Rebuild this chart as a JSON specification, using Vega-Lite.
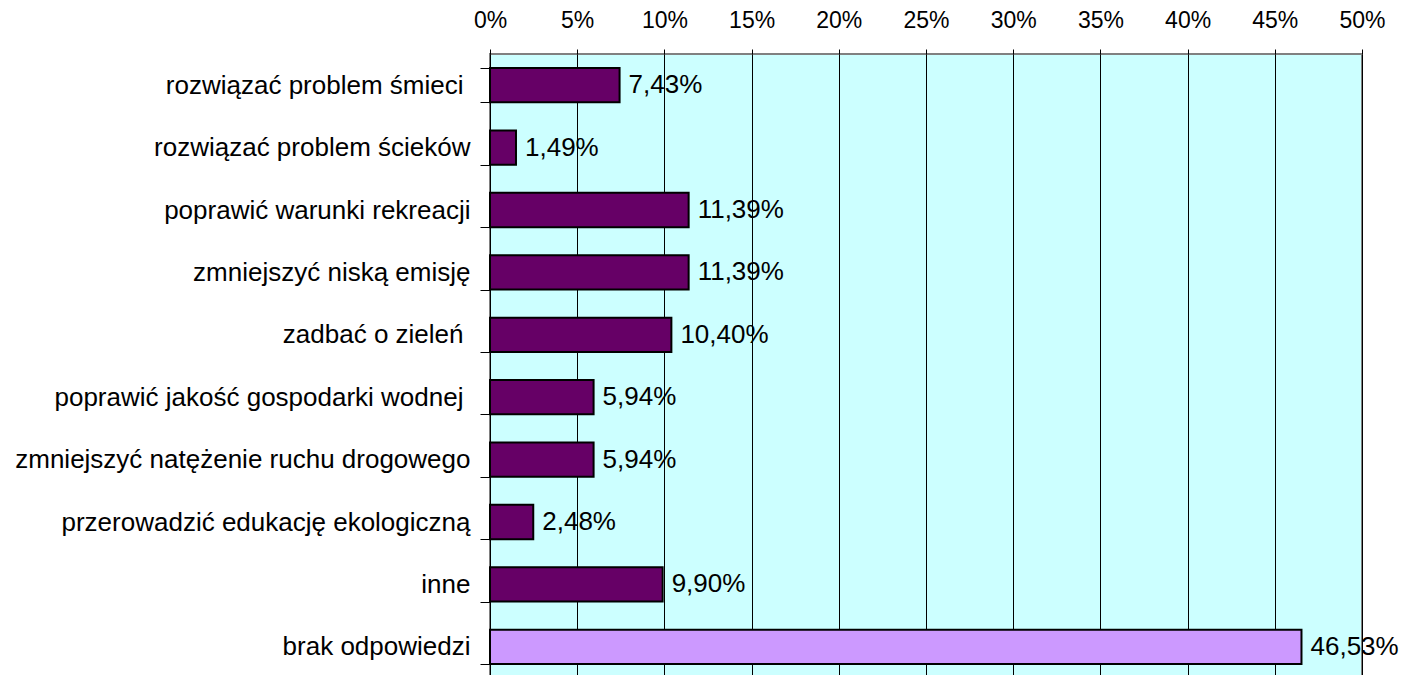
{
  "$schema": "https://vega.github.io/schema/vega-lite/v6.json",
  "autosize": "none",
  "padding": {"top": 54, "left": 490, "right": 43, "bottom": 0},
  "width": 872,
  "height": 624,
  "background": "#ffffff",
  "config": {
    "locale": {"number": {"decimal": ",", "thousands": " ", "grouping": [3], "currency": ["", " zł"]}},
    "view": {"fill": "#CCFFFF", "stroke": "#808080", "strokeWidth": 2},
    "font": "Liberation Sans"
  },
  "data": {
    "values": [
      {"kategoria": "rozwiązać problem śmieci", "wartosc": 0.0743, "grupa": "a"},
      {"kategoria": "rozwiązać problem ścieków", "wartosc": 0.0149, "grupa": "a"},
      {"kategoria": "poprawić warunki rekreacji", "wartosc": 0.1139, "grupa": "a"},
      {"kategoria": "zmniejszyć niską emisję", "wartosc": 0.1139, "grupa": "a"},
      {"kategoria": "zadbać o zieleń", "wartosc": 0.1040, "grupa": "a"},
      {"kategoria": "poprawić jakość gospodarki wodnej", "wartosc": 0.0594, "grupa": "a"},
      {"kategoria": "zmniejszyć natężenie ruchu drogowego", "wartosc": 0.0594, "grupa": "a"},
      {"kategoria": "przerowadzić edukację ekologiczną", "wartosc": 0.0248, "grupa": "a"},
      {"kategoria": "inne", "wartosc": 0.0990, "grupa": "a"},
      {"kategoria": "brak odpowiedzi", "wartosc": 0.4653, "grupa": "b"}
    ]
  },
  "encoding": {
    "y": {
      "field": "kategoria",
      "type": "nominal",
      "sort": null,
      "scale": {"paddingInner": 0.45, "paddingOuter": 0.225},
      "axis": {
        "title": null,
        "orient": "left",
        "tickBand": "extent",
        "tickSize": 10,
        "tickColor": "#000000",
        "tickWidth": 1,
        "domainColor": "#000000",
        "domainWidth": 1,
        "labelPadding": {
          "condition": {
            "test": "datum.value === 'rozwiązać problem śmieci' || datum.value === 'zadbać o zieleń' || datum.value === 'poprawić jakość gospodarki wodnej'",
            "value": 17
          },
          "value": 10
        },
        "labelFontSize": 26,
        "labelColor": "#000000",
        "labelLimit": 600,
        "grid": false
      }
    },
    "x": {
      "field": "wartosc",
      "type": "quantitative",
      "scale": {"domain": [0, 0.5], "nice": false},
      "axis": {
        "title": null,
        "orient": "top",
        "format": ".0%",
        "values": [0, 0.05, 0.1, 0.15, 0.2, 0.25, 0.3, 0.35, 0.4, 0.45, 0.5],
        "tickSize": 5,
        "tickColor": "#000000",
        "grid": true,
        "gridColor": "#000000",
        "gridOpacity": 1,
        "gridWidth": 1,
        "domain": false,
        "labelFontSize": 23,
        "labelPadding": 17,
        "labelColor": "#000000",
        "labelFlush": false
      }
    }
  },
  "layer": [
    {
      "mark": {"type": "bar", "stroke": "#000000", "strokeWidth": 2},
      "encoding": {
        "color": {
          "field": "grupa",
          "type": "nominal",
          "scale": {"domain": ["a", "b"], "range": ["#660066", "#CC99FF"]},
          "legend": null
        }
      }
    },
    {
      "mark": {"type": "text", "align": "left", "baseline": "middle", "dx": 9, "fontSize": 26, "color": "#000000"},
      "encoding": {
        "text": {"field": "wartosc", "type": "quantitative", "format": ".2%"}
      }
    }
  ]
}
